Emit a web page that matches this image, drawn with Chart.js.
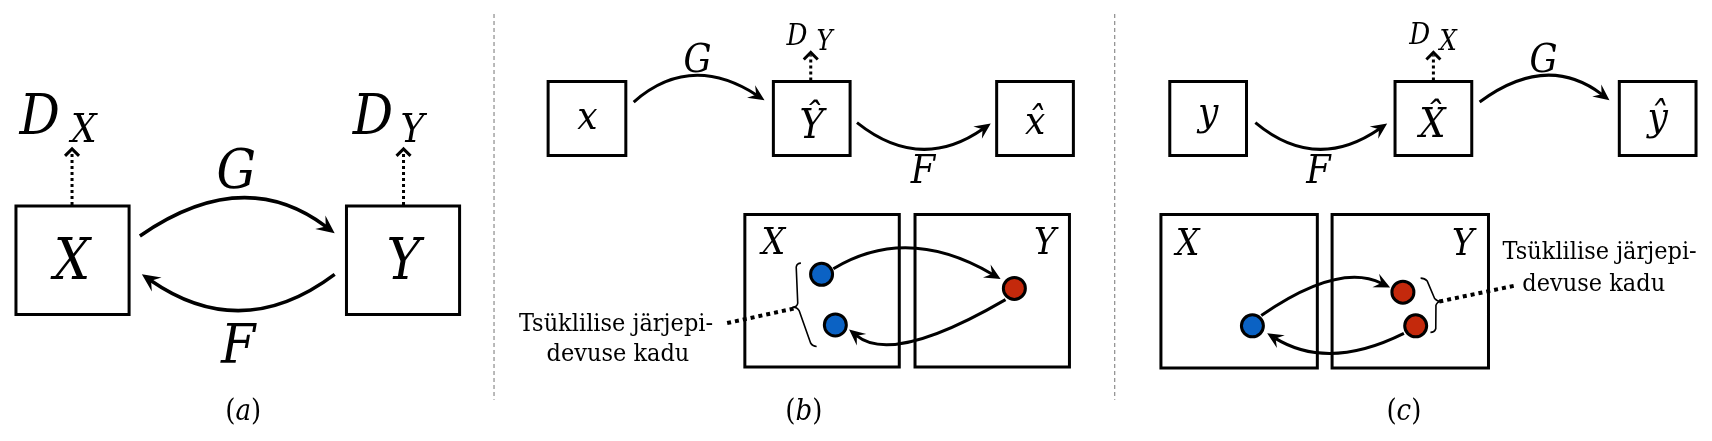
<!DOCTYPE html>
<html>
<head>
<meta charset="utf-8">
<script src="https://cdn.jsdelivr.net/npm/chart.js@4.4.0/dist/chart.umd.min.js"></script>
<style>
html, body { margin: 0; padding: 0; background: #fff; overflow: hidden; }
canvas { display: block; }
</style>
</head>
<body>
<canvas id="myChart" width="1712" height="441"></canvas>
<script>
// boxes: left, top, right, bottom
var boxes = [
    [2, 205, 117, 321], [338, 205, 453, 321],
    [543, 72, 622, 151], [772, 72, 850, 151], [999, 72, 1077, 151],
    [743, 214, 900, 377], [916, 214, 1073, 377],
    [1175, 72, 1253, 151], [1404, 72, 1482, 151], [1632, 72, 1710, 151],
    [1166, 214, 1325, 378], [1340, 214, 1499, 378]
];
// sample points (domain X is blue, domain Y is red)
var dotX = [821, 835, 1017, 1259, 1412, 1425];
var dotY = [278, 332, 293, 333, 297, 333];
var dotColors = ['#0b62c4', '#0b62c4', '#c4290c', '#0b62c4', '#c4290c', '#c4290c'];
// mapping arrows: start x,y, middle x,y, tip x,y, line width
var arrows = [
    [128, 237, 230, 198, 326, 234, 3.5], [326, 278, 230, 315, 130, 278, 3.5],
    [630, 94, 692, 67, 763, 92, 3], [857, 116, 923, 143, 993, 117, 3],
    [833, 272, 913, 251, 1003, 283, 3], [1008, 305, 911, 348, 849, 337, 3],
    [1262, 116, 1326, 143, 1396, 117, 3], [1490, 94, 1557, 67, 1622, 92, 3],
    [1268, 322, 1340, 286, 1399, 292, 3], [1413, 341, 1340, 361, 1274, 341, 3]
];
// discriminator arrows: x, from y, to y
var discArrows = [[59, 204, 143], [396, 204, 143], [810, 71, 40], [1443, 71, 40]];
var dividerX = [488, 1119];
// loss link lines: x1, y1, x2, y2
var lossLinks = [[725, 330, 795, 314], [1449, 307, 1526, 290]];
// braces: end x,y, tip x,y, end x,y, side
var braces = [[800, 266, 792, 313, 816, 355, -1], [1430, 282, 1451, 307, 1440, 340, 1]];
// math labels: text, x, baseline, size
var mathLabels = [
    ['X', 59, 283, 57], ['Y', 396, 283, 57],
    ['D', 26, 128, 56], ['X', 71, 137, 40], ['D', 365, 128, 56], ['Y', 405, 137, 40],
    ['G', 226, 186, 55], ['F', 228, 373, 55],
    ['x', 583, 123, 40], ['\u0176', 811, 132, 41], ['x\u0302', 1038, 128, 40],
    ['G', 695, 62, 39], ['D', 796, 33, 29], ['Y', 824, 38, 27], ['F', 924, 180, 39],
    ['X', 772, 256, 37], ['Y', 1048, 256, 37],
    ['y', 1214, 118, 40], ['X\u0302', 1442, 131, 41], ['\u0177', 1671, 124, 40],
    ['F', 1326, 180, 39], ['D', 1429, 32, 29], ['X', 1458, 38, 27], ['G', 1555, 62, 39],
    ['X', 1193, 257, 37], ['Y', 1473, 257, 37]
];
var lossText = [
    ['Tsüklilise järjepi-', 612, 338], ['devuse kadu', 614, 370],
    ['Tsüklilise järjepi-', 1612, 262], ['devuse kadu', 1606, 296]
];
var captions = [['(a)', 233, 433], ['(b)', 803, 433], ['(c)', 1413, 433]];

var SERIF = '"DejaVu Serif Condensed", "DejaVu Serif", serif';

function gapped(segments) {
    var out = [];
    segments.forEach(function (s) {
        s.forEach(function (p) { out.push({x: p[0], y: p[1]}); });
        out.push({x: s[0][0], y: null});
    });
    return out;
}

var boxData = gapped(boxes.map(function (b) {
    return [[b[0], b[1]], [b[2], b[1]], [b[2], b[3]], [b[0], b[3]], [b[0], b[1]]];
}));
var dividerData = gapped(dividerX.map(function (x) { return [[x, 0], [x, 412]]; }));
var linkData = gapped(lossLinks.map(function (l) { return [[l[0], l[1]], [l[2], l[3]]]; }));
var discData = gapped(discArrows.map(function (d) { return [[d[0], d[1]], [d[0], d[2] + 4]]; }));
var dotData = dotX.map(function (x, i) { return {x: x, y: dotY[i]}; });

var diagram = {
    id: 'diagram',
    afterDatasetsDraw: function (chart) {
        var c = chart.ctx, sx = chart.scales.x, sy = chart.scales.y;
        function P(x, y) { return [sx.getPixelForValue(x), sy.getPixelForValue(y)]; }
        c.save();
        c.strokeStyle = '#000';
        c.fillStyle = '#000';

        arrows.forEach(function (a) {
            var s = P(a[0], a[1]), m = P(a[2], a[3]), t = P(a[4], a[5]);
            var cx = 2 * m[0] - (s[0] + t[0]) / 2, cy = 2 * m[1] - (s[1] + t[1]) / 2;
            var dx = t[0] - cx, dy = t[1] - cy, len = Math.hypot(dx, dy);
            dx /= len; dy /= len;
            var L = a[6] > 3 ? 18 : 16, W = a[6] > 3 ? 8.5 : 7.5;
            c.lineWidth = a[6];
            c.lineCap = 'butt';
            c.beginPath();
            c.moveTo(s[0], s[1]);
            c.quadraticCurveTo(cx, cy, t[0] - dx * L * 0.6, t[1] - dy * L * 0.6);
            c.stroke();
            c.beginPath();
            c.moveTo(t[0], t[1]);
            c.lineTo(t[0] - dx * L - dy * W, t[1] - dy * L + dx * W);
            c.lineTo(t[0] - dx * L * 0.62, t[1] - dy * L * 0.62);
            c.lineTo(t[0] - dx * L + dy * W, t[1] - dy * L - dx * W);
            c.closePath();
            c.fill();
        });

        c.lineWidth = 3;
        c.lineJoin = 'miter';
        discArrows.forEach(function (d) {
            var t = P(d[0], d[2]);
            c.beginPath();
            c.moveTo(t[0] - 7, t[1] + 8);
            c.lineTo(t[0], t[1] + 1);
            c.lineTo(t[0] + 7, t[1] + 8);
            c.stroke();
        });

        c.lineWidth = 1.6;
        c.lineJoin = 'round';
        braces.forEach(function (b) {
            var A = P(b[0], b[1]), T = P(b[2], b[3]), B = P(b[4], b[5]);
            var n = [b[6], 0], h = 4;
            function unit(p, q) { var x = q[0] - p[0], y = q[1] - p[1], l = Math.hypot(x, y); return [x / l, y / l]; }
            var u1 = unit(A, T), u2 = unit(T, B);
            c.beginPath();
            c.moveTo(A[0], A[1]);
            c.quadraticCurveTo(A[0] + n[0] * h, A[1] + n[1] * h, A[0] + n[0] * h + u1[0] * h, A[1] + n[1] * h + u1[1] * h);
            c.lineTo(T[0] - n[0] * h - u1[0] * h, T[1] - n[1] * h - u1[1] * h);
            c.quadraticCurveTo(T[0] - n[0] * h, T[1] - n[1] * h, T[0], T[1]);
            c.quadraticCurveTo(T[0] - n[0] * h, T[1] - n[1] * h, T[0] - n[0] * h + u2[0] * h, T[1] - n[1] * h + u2[1] * h);
            c.lineTo(B[0] + n[0] * h - u2[0] * h, B[1] + n[1] * h - u2[1] * h);
            c.quadraticCurveTo(B[0] + n[0] * h, B[1] + n[1] * h, B[0], B[1]);
            c.stroke();
        });

        c.textAlign = 'center';
        c.textBaseline = 'alphabetic';
        mathLabels.forEach(function (m) {
            var p = P(m[1], m[2]);
            c.font = 'italic ' + m[3] + 'px ' + SERIF;
            c.fillText(m[0], p[0], p[1]);
        });
        c.font = '25px ' + SERIF;
        lossText.forEach(function (l) {
            var p = P(l[1], l[2]);
            c.fillText(l[0], p[0], p[1]);
        });
        c.textAlign = 'left';
        captions.forEach(function (cap) {
            var p = P(cap[1], cap[2]);
            var parts = cap[0].split('').map(function (ch) {
                var f = (/[a-z]/.test(ch) ? 'italic ' : '') + '29px ' + SERIF;
                c.font = f;
                return [ch, f, c.measureText(ch).width];
            });
            var w = parts.reduce(function (s, q) { return s + q[2]; }, 0), x = p[0] - w / 2;
            parts.forEach(function (q) {
                c.font = q[1];
                c.fillText(q[0], x, p[1]);
                x += q[2];
            });
        });
        c.restore();
    }
};

var ctx = document.getElementById('myChart').getContext('2d');
var myChart = new Chart(ctx, {
    type: 'scatter',
    data: {
        datasets: [
            {
                data: dotData,
                pointRadius: 11,
                pointBackgroundColor: dotColors,
                pointBorderColor: '#000',
                pointBorderWidth: 3,
                showLine: false,
                clip: false,
            },
            {
                data: boxData,
                showLine: true,
                borderColor: '#000',
                borderWidth: 3,
                borderJoinStyle: 'miter',
                borderCapStyle: 'square',
                pointRadius: 0,
                spanGaps: false,
                clip: false,
            },
            {
                data: linkData,
                showLine: true,
                borderColor: '#000',
                borderWidth: 4,
                borderDash: [4, 4],
                pointRadius: 0,
                spanGaps: false,
                clip: false,
            },
            {
                data: discData,
                showLine: true,
                borderColor: '#000',
                borderWidth: 3,
                borderDash: [3, 3],
                pointRadius: 0,
                spanGaps: false,
                clip: false,
            },
            {
                data: dividerData,
                showLine: true,
                borderColor: '#8c8c8c',
                borderWidth: 1.2,
                borderDash: [4, 3],
                pointRadius: 0,
                spanGaps: false,
                clip: false,
            },
        ],
    },
    options: {
        responsive: false,
        devicePixelRatio: 1,
        animation: false,
        events: [],
        layout: { padding: 0 },
        scales: {
            x: { type: 'linear', min: 0, max: 1712, display: false },
            y: { type: 'linear', min: 0, max: 441, reverse: true, display: false },
        },
        plugins: {
            legend: { display: false },
            tooltip: { enabled: false },
        },
    },
    plugins: [diagram],
});
</script>
</body>
</html>
